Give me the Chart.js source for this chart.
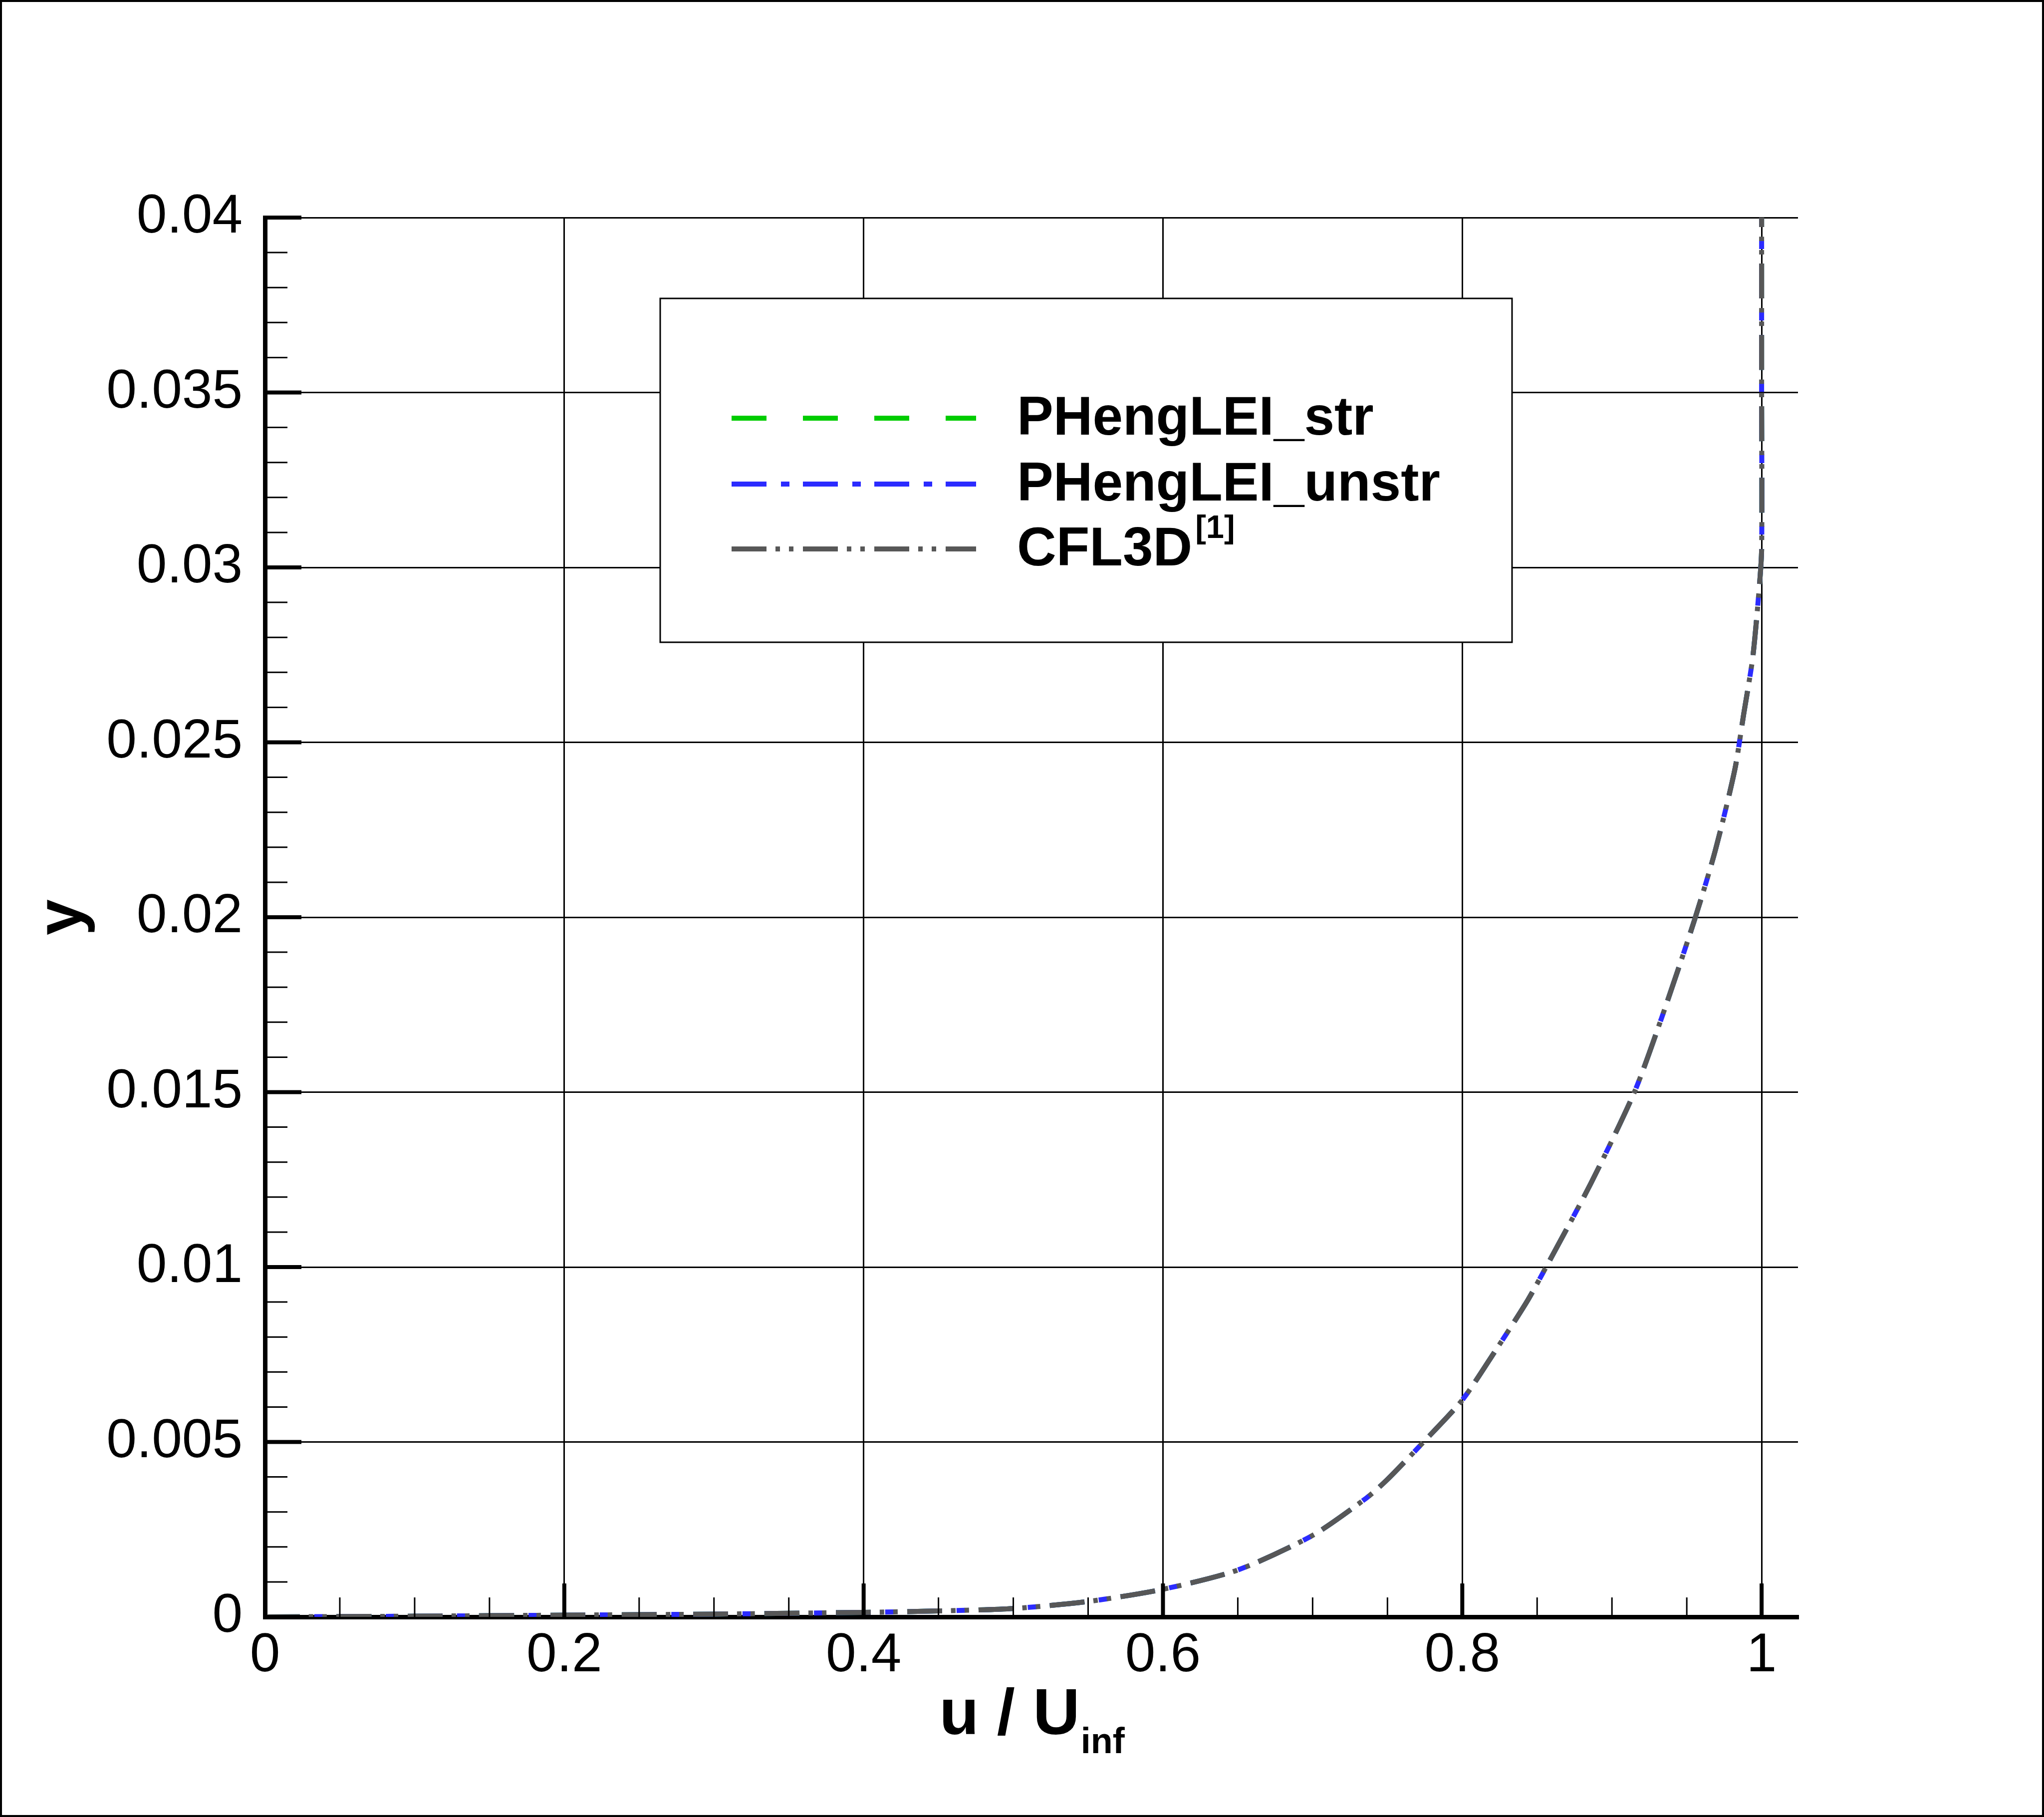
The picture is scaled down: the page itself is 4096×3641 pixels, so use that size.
<!DOCTYPE html>
<html>
<head>
<meta charset="utf-8">
<script src="https://cdn.jsdelivr.net/npm/chart.js@4.4.0/dist/chart.umd.min.js"></script>
<style>
html,body{margin:0;padding:0;background:#fff}
canvas{display:block}
</style>
</head>
<body>
<canvas id="c" width="4096" height="3641"></canvas>
<script>
// velocity profile u/Uinf vs y
const uStr   = [0, 0.1, 0.2, 0.3, 0.4, 0.45, 0.5, 0.55, 0.6, 0.65, 0.7, 0.736, 0.75, 0.775, 0.8, 0.822, 0.843, 0.856, 0.886, 0.915, 0.933, 0.955, 0.969, 0.982, 0.988, 0.994, 0.998, 1.0, 1.0, 1.0];
const yStr   = [0, 0.00002, 0.00005, 0.00008, 0.00013, 0.00017, 0.00024, 0.00044, 0.00079, 0.00134, 0.00233, 0.0034, 0.00393, 0.00504, 0.0062, 0.0076, 0.009, 0.01, 0.0124, 0.015, 0.0171, 0.0199, 0.0219, 0.0242, 0.0258, 0.0274, 0.0292, 0.0305, 0.035, 0.04];
const uUnstr = [0, 0.1, 0.2, 0.3, 0.4, 0.45, 0.5, 0.55, 0.6, 0.65, 0.7, 0.736, 0.75, 0.775, 0.8, 0.822, 0.843, 0.856, 0.886, 0.915, 0.933, 0.955, 0.969, 0.982, 0.988, 0.994, 0.998, 1.0, 1.0, 1.0];
const yUnstr = [0, 0.00002, 0.00005, 0.00008, 0.00013, 0.00017, 0.00024, 0.00044, 0.00079, 0.00134, 0.00233, 0.0034, 0.00393, 0.00504, 0.0062, 0.0076, 0.009, 0.01, 0.0124, 0.015, 0.0171, 0.0199, 0.0219, 0.0242, 0.0258, 0.0274, 0.0292, 0.0305, 0.035, 0.04];
const uCfl   = [0, 0.1, 0.2, 0.3, 0.4, 0.45, 0.5, 0.55, 0.6, 0.65, 0.7, 0.736, 0.75, 0.775, 0.8, 0.822, 0.843, 0.856, 0.886, 0.915, 0.933, 0.955, 0.969, 0.982, 0.988, 0.994, 0.998, 1.0, 1.0, 1.0];
const yCfl   = [0, 0.00002, 0.00005, 0.00008, 0.00013, 0.00017, 0.00024, 0.00044, 0.00079, 0.00134, 0.00233, 0.0034, 0.00393, 0.00504, 0.0062, 0.0076, 0.009, 0.01, 0.0124, 0.015, 0.0171, 0.0199, 0.0219, 0.0242, 0.0258, 0.0274, 0.0292, 0.0305, 0.035, 0.04];

const seriesNames = ['PHengLEI_str', 'PHengLEI_unstr', 'CFL3D'];
const xTicks = [0, 0.2, 0.4, 0.6, 0.8, 1];
const yTicks = [0, 0.005, 0.01, 0.015, 0.02, 0.025, 0.03, 0.035, 0.04];
const xMax = 1.0243, yMax = 0.04;

const FONT = "'Liberation Sans', Arial, sans-serif";
const colors = ['#00cc00', '#2b2bff', '#575757'];
const dashes = [[70,73], [70,29,17,27], [70,18,9,18,9,19]];

const pts = (us, ys) => us.map((u,i) => ({x:u, y:ys[i]}));
const fmt = v => String(+(+v).toFixed(4));

// inward tick marks, titles, legend box, outer frame
const deco = {
  id: 'deco',
  beforeDraw(chart){
    const ctx = chart.ctx;
    ctx.save(); ctx.fillStyle = '#fff'; ctx.fillRect(0,0,chart.width,chart.height); ctx.restore();
  },
  afterDatasetsDraw(chart){
    const ctx = chart.ctx, xs = chart.scales.x, ys = chart.scales.y, a = chart.chartArea;
    ctx.save(); ctx.strokeStyle = '#000'; ctx.lineCap = 'butt';
    for (let i=0;i<=40;i++){
      const y = ys.getPixelForValue(i*0.001), maj = i%5===0;
      ctx.lineWidth = maj?8:3;
      ctx.beginPath(); ctx.moveTo(a.left, y); ctx.lineTo(a.left+(maj?73:45), y); ctx.stroke();
    }
    for (let i=0;i<=20;i++){
      const x = xs.getPixelForValue(i*0.05), maj = i%4===0;
      ctx.lineWidth = maj?8:3;
      ctx.beginPath(); ctx.moveTo(x, a.bottom); ctx.lineTo(x, a.bottom-(maj?67:39)); ctx.stroke();
    }
    ctx.restore();
  },
  afterDraw(chart){
    const ctx = chart.ctx, a = chart.chartArea;
    ctx.save();
    ctx.fillStyle = '#000'; ctx.textAlign = 'left'; ctx.textBaseline = 'alphabetic';

    // x title: u / U_inf
    ctx.font = `bold 130px ${FONT}`;
    const w1 = ctx.measureText('u / U').width;
    ctx.font = `bold 72px ${FONT}`;
    const w2 = ctx.measureText('inf').width;
    const x0 = (a.left+a.right)/2 - (w1+w2)/2;
    ctx.font = `bold 130px ${FONT}`; ctx.fillText('u / U', x0, 3475);
    ctx.font = `bold 72px ${FONT}`; ctx.fillText('inf', x0+w1+2, 3513);

    // y title
    ctx.save(); ctx.translate(163, (a.top+a.bottom)/2); ctx.rotate(-Math.PI/2);
    ctx.font = `bold 130px ${FONT}`; ctx.textAlign = 'center'; ctx.fillText('y', 0, 0);
    ctx.restore();

    // legend
    ctx.fillStyle = '#fff'; ctx.fillRect(1323, 598, 1707, 689);
    ctx.strokeStyle = '#000'; ctx.lineWidth = 3; ctx.strokeRect(1323, 598, 1707, 689);
    const rows = [838, 970, 1100];
    seriesNames.forEach((n,i)=>{
      ctx.strokeStyle = colors[i]; ctx.lineWidth = 10; ctx.setLineDash(dashes[i]); ctx.lineCap='butt';
      ctx.beginPath(); ctx.moveTo(1466, rows[i]); ctx.lineTo(1956, rows[i]); ctx.stroke();
      ctx.setLineDash([]);
      ctx.fillStyle = '#000'; ctx.font = `bold 109px ${FONT}`;
      ctx.fillText(n, 2038, rows[i]+33);
      if (n==='CFL3D'){
        const w = ctx.measureText(n).width;
        ctx.font = `bold 65px ${FONT}`;
        ctx.fillText('[1]', 2038+w+6, rows[i]+33-55);
      }
    });

    // outer frame
    ctx.strokeStyle = '#000'; ctx.lineWidth = 4; ctx.strokeRect(2, 2, chart.width-4, chart.height-4);
    ctx.restore();
  }
};

const mk = (i, us, ys, order) => ({
  label: seriesNames[i], data: pts(us, ys), borderColor: colors[i], borderWidth: 10,
  borderDash: dashes[i], borderCapStyle: 'butt', pointRadius: 0, tension: 0.25,
  fill: false, order: order
});

new Chart(document.getElementById('c'), {
  type: 'line',
  data: { datasets: [ mk(0, uStr, yStr, 2), mk(1, uUnstr, yUnstr, 1), mk(2, uCfl, yCfl, 0) ] },
  options: {
    responsive: false, animation: false, devicePixelRatio: 1,
    layout: { padding: { left: 0, top: 436, right: 493, bottom: 0 } },
    plugins: { legend: { display: false }, tooltip: { enabled: false } },
    scales: {
      x: {
        type: 'linear', min: 0, max: xMax,
        afterBuildTicks: s => { s.ticks = xTicks.map(v=>({value:v})); },
        afterFit: s => { s.height = 401; },
        grid: { color: '#000', lineWidth: 3, drawTicks: false },
        border: { color: '#000', width: 9 },
        ticks: { color: '#000', padding: 14, maxRotation: 0, autoSkip: false, font: { family: FONT, size: 109 }, callback: fmt }
      },
      y: {
        type: 'linear', min: 0, max: yMax,
        afterBuildTicks: s => { s.ticks = yTicks.map(v=>({value:v})); },
        afterFit: s => { s.width = 531; },
        grid: { color: '#000', lineWidth: 3, drawTicks: false },
        border: { color: '#000', width: 9 },
        ticks: { color: '#000', padding: 45, autoSkip: false, font: { family: FONT, size: 109 }, callback: fmt }
      }
    }
  },
  plugins: [deco]
});
</script>
</body>
</html>
